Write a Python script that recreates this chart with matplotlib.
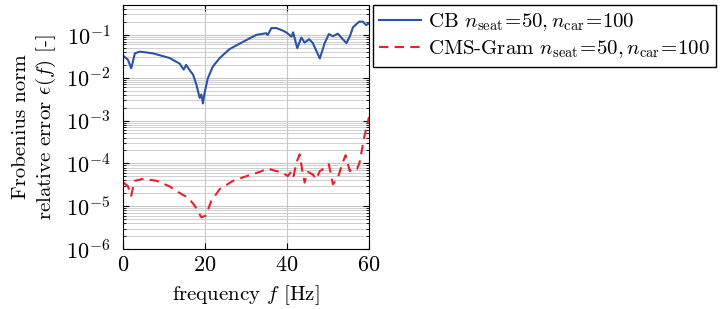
import numpy as np
import matplotlib
matplotlib.use("Agg")
import matplotlib.pyplot as plt
from matplotlib.ticker import LogLocator, NullFormatter

plt.rcParams['font.family'] = 'serif'
plt.rcParams['font.serif'] = ['cmr10']
plt.rcParams['mathtext.fontset'] = 'cm'
plt.rcParams['axes.formatter.use_mathtext'] = True

# CB curve, log10 of relative error
f_cb = [0.1, 1.2, 2.0, 2.9, 4.1, 7.3, 11.4, 13.8, 14.8, 15.4, 16.3, 17.1, 17.9,
        18.7, 19.1, 19.5, 19.9, 20.7, 21.9, 23.6, 26.0, 29.3, 32.5, 34.9, 35.3,
        36.2, 37.4, 39.0, 39.8, 41.1, 41.5, 42.5, 43.5, 44.3, 45.4, 46.3, 48.0,
        49.2, 50.2, 51.2, 52.4, 53.5, 54.5, 55.3, 56.1, 57.6, 58.5, 59.3, 60.0]
log_cb = [-1.49, -1.58, -1.78, -1.43, -1.39, -1.43, -1.54, -1.67, -1.81, -1.70,
          -1.83, -1.93, -2.16, -2.47, -2.39, -2.60, -2.35, -2.01, -1.74, -1.54,
          -1.33, -1.16, -1.00, -0.96, -1.00, -0.84, -0.84, -0.90, -0.94, -1.04,
          -0.94, -1.31, -1.06, -1.18, -1.10, -1.19, -1.55, -1.19, -0.98, -1.03,
          -0.97, -1.09, -1.19, -1.04, -0.82, -0.69, -0.69, -0.77, -0.73]

# CMS-Gram curve
f_cms = [0.1, 1.2, 2.0, 2.8, 5.0, 8.3, 11.4, 14.3, 15.9, 17.5, 19.1, 20.2, 21.5,
         23.6, 26.8, 30.1, 33.3, 35.3, 37.4, 39.0, 40.2, 41.1, 41.6, 42.3, 43.1,
         43.7, 44.3, 45.1, 46.3, 47.1, 48.0, 49.2, 50.2, 51.2, 52.4, 53.5, 54.3,
         55.3, 56.1, 57.1, 57.7, 58.9, 60.0]
log_cms = [-4.45, -4.53, -4.76, -4.41, -4.36, -4.41, -4.54, -4.72, -4.80, -4.99,
           -5.26, -5.22, -4.88, -4.60, -4.41, -4.30, -4.20, -4.12, -4.18, -4.22,
           -4.30, -4.18, -4.30, -3.98, -3.79, -4.15, -4.45, -4.20, -4.26, -4.37,
           -4.18, -4.11, -4.02, -4.49, -4.34, -4.00, -3.81, -4.18, -4.11, -4.13,
           -3.98, -3.36, -2.92]

labels = [r'CB $n_{\mathrm{seat}}\!=\!50, n_{\mathrm{car}}\!=\!100$',
          r'CMS-Gram $n_{\mathrm{seat}}\!=\!50, n_{\mathrm{car}}\!=\!100$']

fig = plt.figure(figsize=(7.21, 3.09), dpi=100)
ax = fig.add_axes([123/721, 1-249/309, 246/721, 244/309])

ax.semilogy(f_cb, 10**np.array(log_cb), color='#2a52a8', lw=1.5, label=labels[0])
ax.semilogy(f_cms, 10**np.array(log_cms), color='#e8202c', lw=1.5,
            ls=(0, (4.5, 3)), label=labels[1])

ax.set_xlim(0, 60)
ax.set_ylim(1e-6, 0.5)
ax.set_xticks([0, 20, 40, 60])
ax.yaxis.set_major_locator(LogLocator(base=10, numticks=10))
ax.yaxis.set_minor_locator(LogLocator(base=10, subs=np.arange(2, 10), numticks=20))
ax.yaxis.set_minor_formatter(NullFormatter())

ax.grid(True, which='major', color='#c8c8c8', lw=0.8)
ax.grid(True, which='minor', axis='y', color='#c8c8c8', lw=0.6)
ax.set_axisbelow(True)
ax.tick_params(which='both', direction='in', top=True, right=True, labelsize=16)
ax.tick_params(which='major', length=4)
ax.tick_params(which='minor', length=2)
ax.tick_params(axis='x', pad=5)
ax.tick_params(axis='y', pad=9)

ax.set_xlabel(r'frequency $f$ [Hz]', fontsize=15)
ax.set_ylabel('Frobenius norm\nrelative error $\\epsilon(f)$ [-]', fontsize=15,
              linespacing=1.2)
ax.yaxis.set_label_coords(-0.265, 0.5)
ax.xaxis.set_label_coords(0.5, -0.14)

ax.legend(loc='upper left', bbox_to_anchor=(1.015, 1.0), fontsize=15,
          frameon=True, fancybox=False, edgecolor='black', framealpha=1,
          handlelength=2.0, borderaxespad=0, borderpad=0.3, labelspacing=0.25,
          handletextpad=0.35)

fig.savefig('out.png', dpi=100)
